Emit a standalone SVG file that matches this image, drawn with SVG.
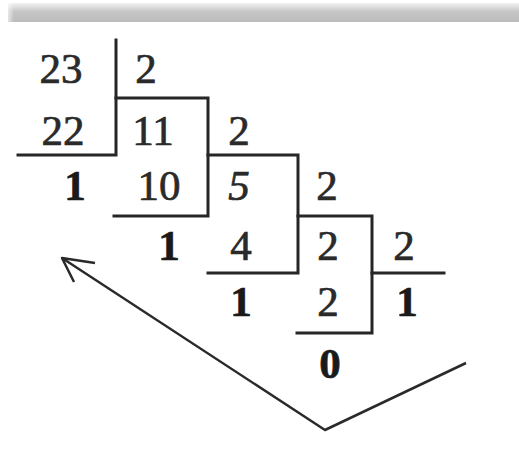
<svg xmlns="http://www.w3.org/2000/svg" width="519" height="462" viewBox="0 0 519 462">
<defs>
<style>
.t{font-family:"Liberation Serif","Times New Roman",serif;font-size:43px;fill:#2a2a2a;stroke:#2a2a2a;stroke-width:0.7;text-anchor:middle}
.b{font-weight:bold;fill:#1a1a1a;stroke:#1a1a1a}
.i{font-style:italic}
.l{stroke:#262626;stroke-width:3;fill:none;stroke-linecap:square}
.a{stroke:#2a2a2a;stroke-width:2.5;fill:none;stroke-linejoin:round}
</style>
<linearGradient id="bar" x1="0" y1="0" x2="0" y2="1">
<stop offset="0" stop-color="#f2f2f2"/>
<stop offset="0.45" stop-color="#c6c6c6"/>
<stop offset="1" stop-color="#bcbcbc"/>
</linearGradient>
<linearGradient id="fade" x1="0" y1="0" x2="1" y2="0">
<stop offset="0" stop-color="#ffffff" stop-opacity="1"/>
<stop offset="1" stop-color="#ffffff" stop-opacity="0"/>
</linearGradient>
</defs>
<rect width="519" height="462" fill="#ffffff"/>
<rect x="8" y="3" width="511" height="19" fill="url(#bar)"/>
<rect x="4" y="3" width="10" height="19" fill="url(#fade)"/>
<g id="connectors">
<polyline class="l" points="116,40 116,155 18,155"/>
<polyline class="l" points="116,98 208,98 208,216 114,216"/>
<polyline class="l" points="208,155 298,155 298,273 208,273"/>
<polyline class="l" points="298,216 372,216 372,333 297,333"/>
<line class="l" x1="372" y1="273" x2="444" y2="273"/>
<polyline class="a" points="466,363 325,430 62,258"/>
<polyline class="a" points="95,263 62,258 74,282"/>
</g>
<g id="step1">
<text class="t" x="61" y="83">23</text>
<text class="t" x="146" y="83">2</text>
<text class="t" x="63" y="145">22</text>
<text class="t b" x="75" y="200">1</text>
</g>
<g id="step2">
<text class="t" x="153" y="145">11</text>
<text class="t" x="239" y="145">2</text>
<text class="t" x="159" y="200">10</text>
<text class="t b" x="169" y="260">1</text>
</g>
<g id="step3">
<text class="t i" x="239" y="200">5</text>
<text class="t" x="327" y="200">2</text>
<text class="t" x="241" y="260">4</text>
<text class="t b" x="241" y="316">1</text>
</g>
<g id="step4">
<text class="t" x="328" y="260">2</text>
<text class="t" x="404" y="260">2</text>
<text class="t" x="328" y="316">2</text>
<text class="t b" x="330" y="378">0</text>
</g>
<g id="step5">
<text class="t b" x="407" y="316">1</text>
</g>
</svg>
